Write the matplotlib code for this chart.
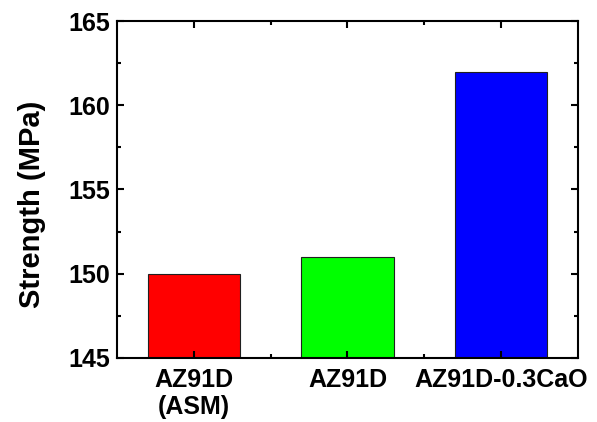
import matplotlib
matplotlib.use('Agg')
import matplotlib.pyplot as plt
from matplotlib.ticker import MultipleLocator, FixedLocator

# data
labels = ['AZ91D\n(ASM)', 'AZ91D', 'AZ91D-0.3CaO']
strength = [150, 151, 162]
colors = ['#ff0000', '#00ff00', '#0000ff']

plt.rcParams['font.family'] = ['Liberation Sans', 'DejaVu Sans']
plt.rcParams['font.weight'] = 'bold'

fig = plt.figure(figsize=(5.97, 4.22), dpi=100)
ax = fig.add_axes([0.196, 0.152, 0.772, 0.798])

x = range(len(labels))
ax.bar(x, [s - 145 for s in strength], bottom=145, width=0.6,
       color=colors, edgecolor='#202020', linewidth=0.8)

ax.set_xlim(-0.5, 2.5)
ax.set_ylim(145, 165)
ax.set_xticks(list(x))
ax.set_xticklabels(labels, fontsize=18, fontweight='bold', linespacing=1.2)
ax.xaxis.set_minor_locator(FixedLocator([0.5, 1.5]))
ax.yaxis.set_major_locator(MultipleLocator(5))
ax.yaxis.set_minor_locator(MultipleLocator(2.5))
for lab in ax.get_yticklabels():
    lab.set_fontsize(18)
    lab.set_fontweight('bold')

ax.tick_params(which='both', direction='in', top=True, right=True, width=1.5)
ax.tick_params(which='major', length=5)
ax.tick_params(axis='y', which='major', pad=5)
ax.tick_params(axis='x', which='major', pad=7)
ax.tick_params(which='minor', length=3)
for s in ax.spines.values():
    s.set_linewidth(1.5)

ax.set_ylabel('Strength (MPa)', fontsize=21, fontweight='bold')
ax.yaxis.set_label_coords(-0.155, 0.455)

fig.savefig('out.png', dpi=100)
